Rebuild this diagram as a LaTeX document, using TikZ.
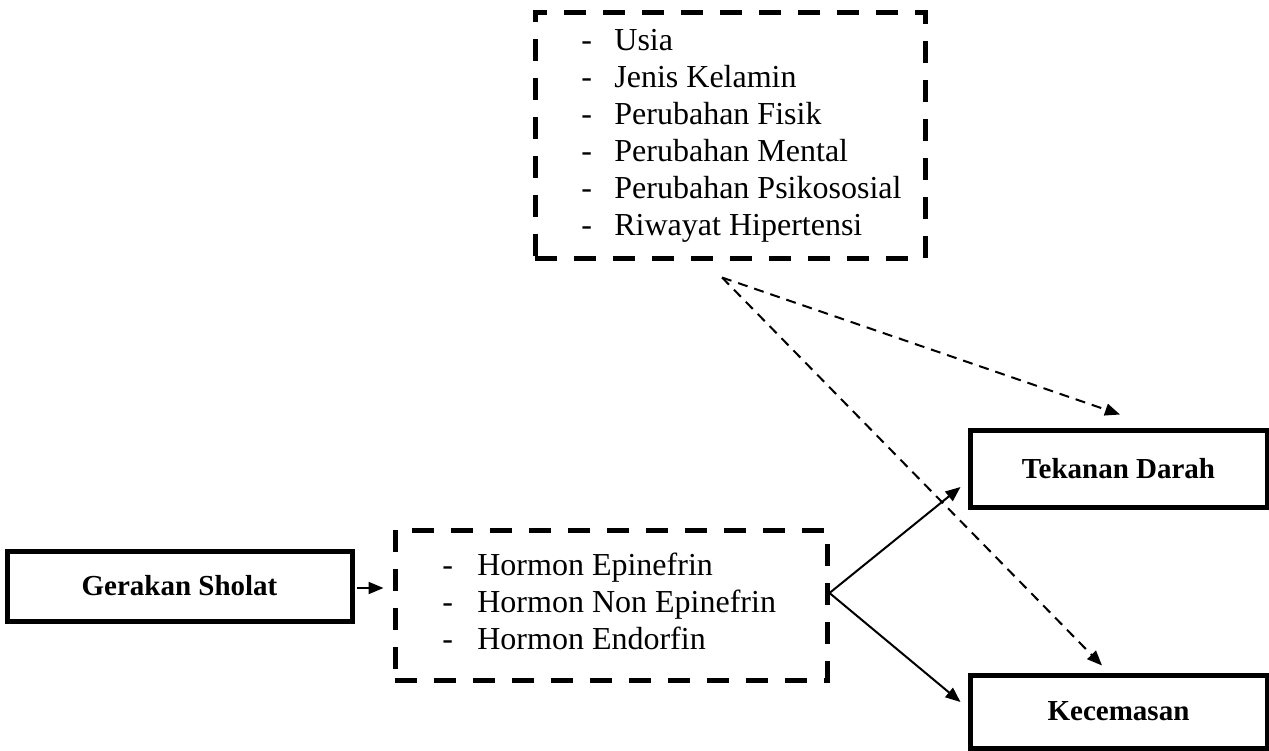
\documentclass[tikz,border=0pt]{standalone}
\usepackage{fontspec}
\setmainfont{Liberation Serif}
\usetikzlibrary{arrows.meta,calc}
\begin{document}
\begin{tikzpicture}[x=0.5pt,y=-0.5pt,
  solidbox/.style={draw,line width=2.5pt,inner sep=0pt,font=\fontsize{14.5}{17}\selectfont\bfseries},
  dashbox/.style={draw,line width=2.5pt,inner sep=0pt,dash pattern=on 11pt off 8.5pt},
  listtext/.style={inner sep=0pt,align=left,anchor=west,font=\fontsize{16}{18.5}\selectfont},
  solidarrow/.style={line width=1pt,-{Triangle[length=7.5pt,width=6pt]}},
  dasharrow/.style={line width=1pt,dash pattern=on 5pt off 3.5pt,-{Triangle[length=7.5pt,width=6pt]}}]
\useasboundingbox (0,0) rectangle (1269,750);
\node[dashbox,minimum width=195pt,minimum height=123pt] (fac) at (730,135) {};
\node[listtext] (factxt) at (581,135.5) {\makebox[16.5pt][l]{-}Usia\\\makebox[16.5pt][l]{-}Jenis Kelamin\\\makebox[16.5pt][l]{-}Perubahan Fisik\\\makebox[16.5pt][l]{-}Perubahan Mental\\\makebox[16.5pt][l]{-}Perubahan Psikososial\\\makebox[16.5pt][l]{-}Riwayat Hipertensi};
\node[dashbox,minimum width=216pt,minimum height=75pt] (hor) at (611,605) {};
\node[listtext] (hortxt) at (442,601) {\makebox[17.5pt][l]{-}Hormon Epinefrin\\\makebox[17.5pt][l]{-}Hormon Non Epinefrin\\\makebox[17.5pt][l]{-}Hormon Endorfin};
\node[solidbox,minimum width=172.5pt,minimum height=35pt] (ger) at (179.5,586) {Gerakan Sholat};
\node[solidbox,minimum width=148.5pt,minimum height=38.5pt] (tek) at (1118.5,468.5) {Tekanan Darah};
\node[solidbox,minimum width=148.5pt,minimum height=36.5pt] (kec) at (1118.5,711.5) {Kecemasan};
\draw[solidarrow] ($(ger.east)+(2,2)$) -- ($(hor.west)+(-9,-17)$);
\coordinate (split) at ($(hor.east)+(0,-12)$);
\draw[solidarrow] (split) -- ($(tek.west)+(-7,18.5)$);
\draw[solidarrow] (split) -- ($(kec.west)+(-7,-9.5)$);
\coordinate (fork) at ($(fac.south)+(-8,17)$);
\draw[dasharrow] (fork) -- ($(tek.north)+(1.5,-13)$);
\draw[dasharrow] (fork) -- ($(kec.north)+(-16.5,-7)$);
\end{tikzpicture}
\end{document}
